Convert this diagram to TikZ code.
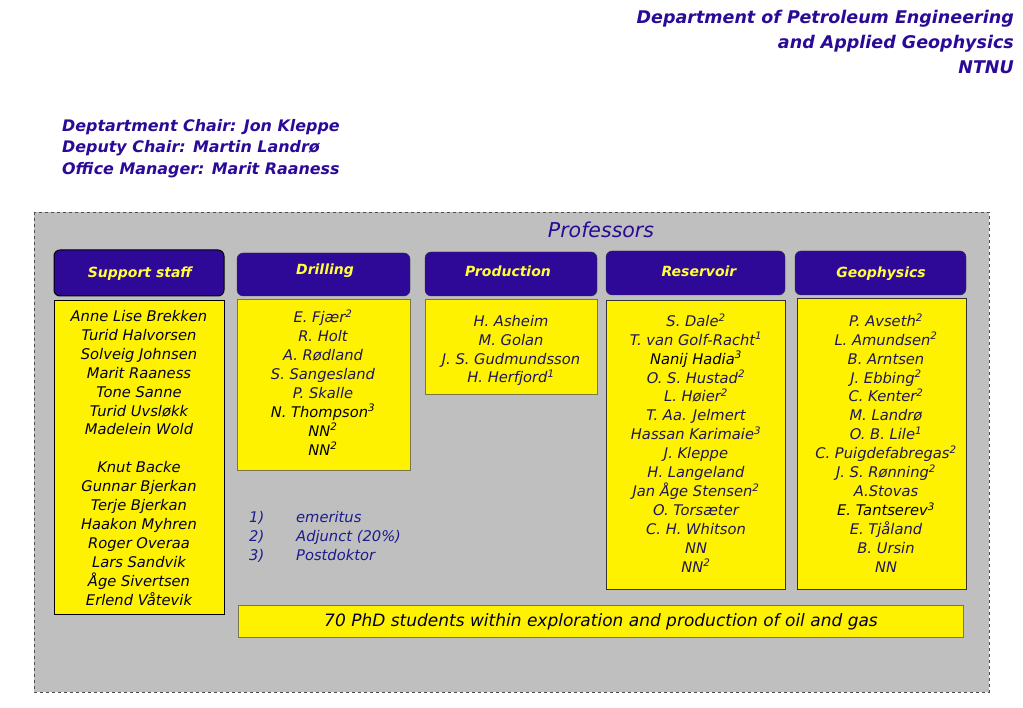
\documentclass[tikz,border=0pt]{standalone}
\usepackage{fontspec}
\setmainfont{DejaVu Sans}
\definecolor{deptblue}{RGB}{42,10,150}
\definecolor{headfill}{RGB}{46,8,150}
\definecolor{headtext}{RGB}{255,255,60}
\definecolor{namecol}{RGB}{30,22,90}
\definecolor{notecol}{RGB}{28,28,140}
\definecolor{boxline}{RGB}{120,120,70}

\begin{document}
\begin{tikzpicture}[x=1pt,y=-1pt,
  headbox/.style={fill=headfill,draw=black!80,rounded corners=6pt},
  namebox/.style={fill=yellow,draw=boxline,line width=0.8pt},
  headlabel/.style={text=headtext,font=\fontsize{14}{16}\selectfont\bfseries\itshape},
  namelist/.style={text=namecol,align=center,anchor=base,inner sep=0pt,font=\fontsize{14.7}{18.9}\selectfont\itshape},
  deptlabel/.style={text=deptblue,inner sep=0pt,font=\fontsize{17.5}{25}\selectfont\bfseries\itshape},
  chairlabel/.style={deptlabel,anchor=base west,font=\fontsize{15.9}{21}\selectfont\bfseries\itshape}]
\useasboundingbox (0,0) rectangle (1023,708);
\begin{scope}
\node[deptlabel,anchor=base east] (dept) at (1014,24) {Department of Petroleum Engineering};
\node[deptlabel,anchor=base east] (applied) at (1014,49) {and Applied Geophysics};
\node[deptlabel,anchor=base east] (ntnu) at (1014,74) {NTNU};
\node[chairlabel] (chair) at (62,132) {Deptartment Chair: Jon Kleppe};
\node[chairlabel] (deputy) at (62,153) {Deputy Chair: Martin Landrø};
\node[chairlabel] (office) at (62,175) {Office Manager: Marit Raaness};
\end{scope}
\begin{scope}
\draw[fill=gray!50,draw=black!70,dashed,line width=0.6pt] (34,212) rectangle (989,692);
\node[text=deptblue,anchor=base,inner sep=0pt,font=\fontsize{20.5}{22}\selectfont\itshape] (prof) at (601,238) {Professors};
\draw[headbox,draw=black,line width=1pt] (54,250) rectangle (224,296);
\draw[headbox] (237,253) rectangle (410,296);
\draw[headbox] (425,252) rectangle (597,296);
\draw[headbox] (606,251) rectangle (785,295);
\draw[headbox] (795,251) rectangle (966,295);
\node[headlabel] (hsupport) at (140,274) {Support staff};
\node[headlabel] (hdrill) at (325,271) {Drilling};
\node[headlabel] (hprod) at (508,271) {Production};
\node[headlabel] (hres) at (699,271) {Reservoir};
\node[headlabel] (hgeo) at (881,274) {Geophysics};
\draw[namebox,draw=black,line width=1pt] (54,301) rectangle (224,614);
\draw[namebox] (237,299) rectangle (410,470);
\draw[namebox] (425,299) rectangle (597,394);
\draw[namebox,draw=black!80] (606,300) rectangle (785,589);
\draw[namebox,draw=black!80] (797,298) rectangle (966,589);
\draw[namebox] (238,605) rectangle (963,637);
\end{scope}
\begin{scope}
\node[namelist,text=black!85!blue] (support) at (139,605) {Anne Lise Brekken\\Turid Halvorsen\\Solveig Johnsen\\Marit Raaness\\Tone Sanne\\Turid Uvsløkk\\Madelein Wold\\[18.9pt]Knut Backe\\Gunnar Bjerkan\\Terje Bjerkan\\Haakon Myhren\\Roger Overaa\\Lars Sandvik\\Åge Sivertsen\\Erlend Våtevik};
\node[namelist] (drill) at (323,455) {E. Fjær\textsuperscript{2}\\R. Holt\\A. Rødland\\S. Sangesland\\P. Skalle\\\textcolor{black}{N. Thompson\textsuperscript{3}}\\\textcolor{black}{NN\textsuperscript{2}}\\\textcolor{black}{NN\textsuperscript{2}}};
\node[namelist] (prod) at (511,383) {H. Asheim\\M. Golan\\J. S. Gudmundsson\\H. Herfjord\textsuperscript{1}};
\node[namelist] (res) at (696,572) {S. Dale\textsuperscript{2}\\T. van Golf-Racht\textsuperscript{1}\\\textcolor{black}{Nanij Hadia\textsuperscript{3}}\\O. S. Hustad\textsuperscript{2}\\L. Høier\textsuperscript{2}\\T. Aa. Jelmert\\Hassan Karimaie\textsuperscript{3}\\J. Kleppe\\H. Langeland\\Jan Åge Stensen\textsuperscript{2}\\O. Torsæter\\C. H. Whitson\\NN\\NN\textsuperscript{2}};
\node[namelist] (geo) at (886,572) {P. Avseth\textsuperscript{2}\\L. Amundsen\textsuperscript{2}\\B. Arntsen\\J. Ebbing\textsuperscript{2}\\C. Kenter\textsuperscript{2}\\M. Landrø\\O. B. Lile\textsuperscript{1}\\C. Puigdefabregas\textsuperscript{2}\\J. S. Rønning\textsuperscript{2}\\A.Stovas\\\textcolor{black}{E. Tantserev\textsuperscript{3}}\\E. Tjåland\\B. Ursin\\NN};
\node[namelist,text=notecol,anchor=base west,align=left] (notenum) at (249,560) {1)\\2)\\3)};
\node[namelist,text=notecol,anchor=base west,align=left] (notetext) at (296,560) {emeritus\\Adjunct (20\%)\\Postdoktor};
\node[namelist,text=black!85!blue,anchor=center,font=\fontsize{17}{19}\selectfont\itshape] (phd) at (601,622) {70 PhD students within exploration and production of oil and gas};
\end{scope}
\end{tikzpicture}
\end{document}
